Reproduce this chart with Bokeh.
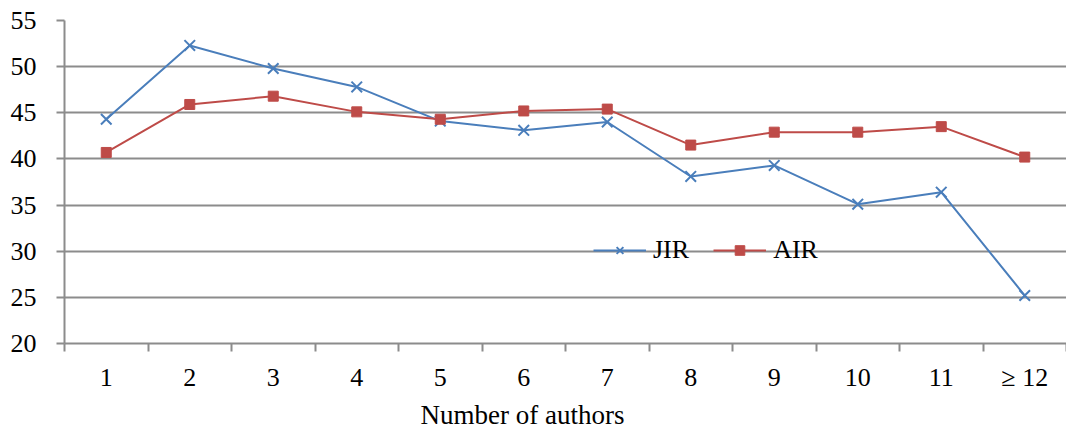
from bokeh.plotting import figure
from bokeh.models import FixedTicker, Range1d, Legend, LegendItem, Title
from bokeh.embed import file_html
from bokeh.resources import INLINE

categories = ["1", "2", "3", "4", "5", "6", "7", "8", "9", "10", "11", "≥ 12"]
jir = [44.3, 52.3, 49.8, 47.8, 44.1, 43.1, 44.0, 38.1, 39.3, 35.1, 36.4, 25.2]
air = [40.7, 45.9, 46.8, 45.1, 44.3, 45.2, 45.4, 41.5, 42.9, 42.9, 43.5, 40.2]
y_ticks = [20, 25, 30, 35, 40, 45, 50, 55]

xs = list(range(1, len(categories) + 1))

FONT = "Liberation Serif"
FS = "26px"
GRID = "#8c8c8c"
BLUE = "#4A7EBB"
RED = "#BE4B48"

p = figure(width=1066, height=432, output_backend="svg", toolbar_location=None,
           x_range=Range1d(0.5, len(categories) + 0.5), y_range=Range1d(20, 55),
           min_border_left=64, min_border_right=0, min_border_top=20, min_border_bottom=89)
p.outline_line_color = None
p.background_fill_color = "white"
p.border_fill_color = "white"

# grid
p.xgrid.visible = False
p.ygrid.ticker = FixedTicker(ticks=y_ticks)
p.ygrid.grid_line_color = GRID
p.ygrid.grid_line_width = 2

# y axis
p.yaxis.ticker = FixedTicker(ticks=y_ticks)
p.yaxis.axis_line_color = GRID
p.yaxis.axis_line_width = 2
p.yaxis.major_tick_line_color = GRID
p.yaxis.major_tick_line_width = 2
p.yaxis.major_tick_out = 8
p.yaxis.major_tick_in = 0
p.yaxis.minor_tick_line_color = None
p.yaxis.major_label_standoff = 20
p.yaxis.major_label_text_font = FONT
p.yaxis.major_label_text_font_size = FS
p.yaxis.major_label_text_color = "black"

# x axis: labels at category centres, ticks at boundaries (minor ticks)
p.xaxis.ticker = FixedTicker(ticks=xs, minor_ticks=[x - 0.5 for x in xs] + [xs[-1] + 0.5])
p.xaxis.major_label_overrides = {x: c for x, c in zip(xs, categories)}
p.xaxis.axis_line_color = GRID
p.xaxis.axis_line_width = 2
p.xaxis.major_tick_line_color = None
p.xaxis.major_tick_out = 0
p.xaxis.major_tick_in = 0
p.xaxis.minor_tick_line_color = GRID
p.xaxis.minor_tick_line_width = 2
p.xaxis.minor_tick_out = 8
p.xaxis.minor_tick_in = 0
p.xaxis.major_label_standoff = 11
p.xaxis.major_label_text_font = FONT
p.xaxis.major_label_text_font_size = FS
p.xaxis.major_label_text_color = "black"

# axis title (placed off-centre, as in the reference)
xtitle = Title(text="Number of authors", align="left", offset=356, standoff=6,
               text_font=FONT, text_font_size="27px", text_font_style="normal",
               text_color="black")
p.add_layout(xtitle, "below")

# series
l1 = p.line(xs, jir, line_color=BLUE, line_width=2)
m1 = p.scatter(xs, jir, marker="x", size=15, line_color=BLUE, line_width=2)
l2 = p.line(xs, air, line_color=RED, line_width=2)
m2 = p.scatter(xs, air, marker="square", size=10, fill_color=RED, line_color=RED)

legend = Legend(items=[LegendItem(label="JIR", renderers=[l1, m1]),
                       LegendItem(label="AIR", renderers=[l2, m2])],
                orientation="horizontal", location=(529, 78),
                background_fill_alpha=0, border_line_color=None,
                padding=0, margin=0, spacing=24,
                glyph_width=53, glyph_height=24, label_standoff=7,
                label_text_font=FONT, label_text_font_size=FS,
                label_text_color="black")
p.add_layout(legend, "center")

open("out.html", "w").write(file_html(p, INLINE))
